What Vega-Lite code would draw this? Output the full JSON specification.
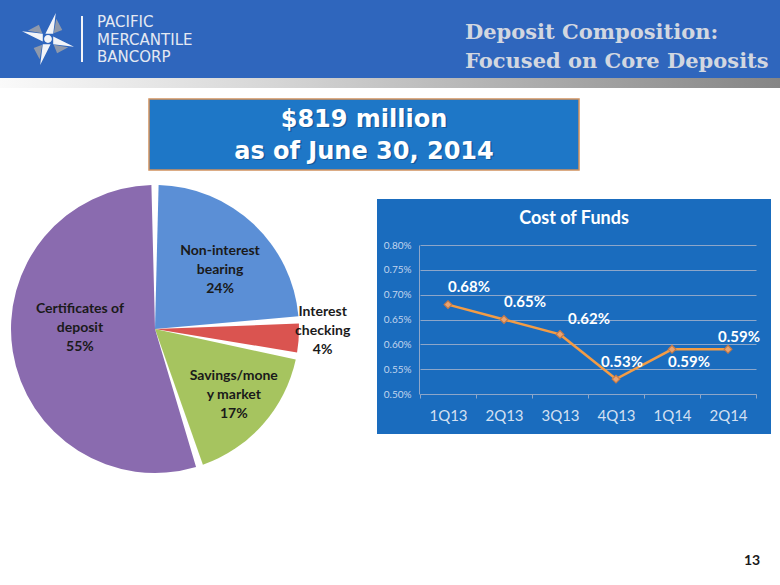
{
  "$schema": "https://vega.github.io/schema/vega-lite/v6.json",
  "background": "#FFFFFF",
  "padding": 0,
  "spacing": 0,
  "config": {"view": {"stroke": null}, "font": "Lato"},
  "datasets": {
    "one": [{}],
    "logo": [{"t": "PACIFIC\nMERCANTILE\nBANCORP"}],
    "heading": [{"t": "Deposit Composition:\nFocused on Core Deposits"}],
    "total": [{"t": "$819 million\nas of June 30, 2014"}],
    "panelTitle": [{"t": "Cost of Funds"}],
    "deposits": [
      {"category": "Non-interest bearing", "label": "Non-interest\nbearing\n24%", "share": 24, "k": 1},
      {"category": "Interest checking", "label": "Interest\nchecking\n4%", "share": 4, "k": 2},
      {"category": "Savings/money market", "label": "Savings/mone\ny market\n17%", "share": 17, "k": 3},
      {"category": "Certificates of deposit", "label": "Certificates of\ndeposit\n55%", "share": 55, "k": 4}
    ],
    "cost": [
      {"quarter": "1Q13", "cost": 0.0068},
      {"quarter": "2Q13", "cost": 0.0065},
      {"quarter": "3Q13", "cost": 0.0062},
      {"quarter": "4Q13", "cost": 0.0053},
      {"quarter": "1Q14", "cost": 0.0059},
      {"quarter": "2Q14", "cost": 0.0059}
    ],
    "page": [{"t": "13"}]
  },
  "vconcat": [
    {
      "hconcat": [
        {
          "width": 194, "height": 78,
          "view": {"fill": "#2F66BD"},
          "layer": [
            {"data": {"name": "one"}, "mark": {"type": "point", "shape": "M -1.665 -0.22 L -1.565 -0.78 L -1.335 -0.35 Z M -1.665 0.22 L -1.105 0.32 L -1.535 0.55 Z M -2.105 0.22 L -2.205 0.78 L -2.435 0.35 Z M -2.105 -0.22 L -2.665 -0.32 L -2.235 -0.55 Z", "size": 2704, "filled": true, "color": "#8F99AB", "opacity": 1, "strokeWidth": 0}},
            {"data": {"name": "one"}, "mark": {"type": "point", "shape": "M -1.985 -0.2 L -1.585 -1 L -1.685 -0.2 Z M -1.685 -0.1 L -0.885 0.3 L -1.685 0.2 Z M -1.785 0.2 L -2.185 1 L -2.085 0.2 Z M -2.085 0.1 L -2.885 -0.3 L -2.085 -0.2 Z M -1.735 0 A 0.15 0.15 0 1 1 -2.035 0 A 0.15 0.15 0 1 1 -1.735 0 Z", "size": 2704, "filled": true, "color": "#F2F4F8", "opacity": 1, "strokeWidth": 0}},
            {"data": {"name": "one"}, "mark": {"type": "point", "shape": "M -0.577 -0.885 L -0.577 0.885", "size": 2704, "filled": false, "stroke": "#F2F4F8", "strokeWidth": 2, "opacity": 1}},
            {"data": {"name": "logo"}, "mark": {"type": "text", "align": "left", "baseline": "middle", "dy": -17, "lineBreak": "\n", "lineHeight": 17.5, "font": "DejaVu Sans", "fontSize": 15, "color": "#E4E9F2"},
              "encoding": {"text": {"field": "t", "type": "nominal"}}}
          ]
        },
        {
          "width": 586, "height": 78,
          "view": {"fill": "#2F66BD"},
          "data": {"name": "heading"},
          "mark": {"type": "text", "align": "left", "baseline": "middle", "dx": -22, "dy": -6, "lineBreak": "\n", "lineHeight": 29, "font": "DejaVu Serif", "fontWeight": "bold", "fontSize": 21, "color": "#D2D7E0"},
          "encoding": {"text": {"field": "t", "type": "nominal"}}
        }
      ],
      "spacing": 0, "bounds": "flush"
    },
    {
      "width": 780, "height": 10,
      "data": {"name": "one"},
      "mark": {"type": "rect", "fill": {"gradient": "linear", "x1": 0, "y1": 0, "x2": 1, "y2": 0, "stops": [{"offset": 0, "color": "#FAFAFA"}, {"offset": 0.35, "color": "#D6D6D6"}, {"offset": 1, "color": "#858585"}]}},
      "encoding": {}
    },
    {"width": 780, "height": 10, "data": {"name": "one"}, "mark": {"type": "point", "opacity": 0}},
    {
      "hconcat": [
        {"width": 149, "height": 71, "data": {"name": "one"}, "mark": {"type": "point", "opacity": 0}},
        {
          "width": 430, "height": 71,
          "view": {"fill": "#1E77C7", "stroke": "#D1915E", "strokeWidth": 1.5},
          "data": {"name": "total"},
          "encoding": {"text": {"field": "t", "type": "nominal"}},
          "layer": [
            {"mark": {"type": "text", "align": "center", "baseline": "middle", "lineBreak": "\n", "lineHeight": 32, "font": "DejaVu Sans", "fontWeight": "bold", "fontSize": 24, "color": "#0D3F73", "opacity": 0.5, "dx": 1.5, "dy": -13.5}},
            {"mark": {"type": "text", "align": "center", "baseline": "middle", "lineBreak": "\n", "lineHeight": 32, "font": "DejaVu Sans", "fontWeight": "bold", "fontSize": 24, "color": "#FFFFFF", "dy": -15}}
          ]
        }
      ],
      "spacing": 0, "bounds": "flush"
    },
    {"width": 780, "height": 14, "data": {"name": "one"}, "mark": {"type": "point", "opacity": 0}},
    {
      "hconcat": [
        {
          "width": 310, "height": 284,
          "data": {"name": "deposits"},
          "layer": [
            {
              "mark": {"type": "arc", "outerRadius": 144, "padAngle": 0.05},
              "encoding": {
                "theta": {"field": "share", "type": "quantitative", "stack": true},
                "order": {"field": "k", "type": "quantitative"},
                "color": {"field": "category", "type": "nominal", "legend": null,
                  "scale": {"domain": ["Non-interest bearing", "Interest checking", "Savings/money market", "Certificates of deposit"], "range": ["#5B8FD6", "#DA5450", "#A6C45F", "#8A6BAF"]}}
              }
            },
            {
              "mark": {"type": "text", "radius": 95, "dy": -9, "lineBreak": "\n", "lineHeight": 19, "font": "Lato", "fontWeight": "bold", "fontSize": 14, "color": "#1A1A1A"},
              "encoding": {
                "theta": {"field": "share", "type": "quantitative", "stack": true},
                "order": {"field": "k", "type": "quantitative"},
                "text": {"condition": {"test": "datum.k == 1", "field": "label", "type": "nominal"}, "value": ""}}
            },
            {
              "transform": [
                {"stack": "share", "groupby": [], "sort": [{"field": "k", "order": "ascending"}], "as": ["s0", "s1"]},
                {"filter": "datum.k == 2"}
              ],
              "mark": {"type": "text", "radius": 168, "dy": -6, "lineBreak": "\n", "lineHeight": 19, "font": "Lato", "fontWeight": "bold", "fontSize": 14, "color": "#1A1A1A"},
              "encoding": {
                "theta": {"field": "s0", "type": "quantitative", "stack": null},
                "text": {"field": "label", "type": "nominal"}
              }
            },
            {
              "mark": {"type": "text", "radius": 105, "dy": -22, "lineBreak": "\n", "lineHeight": 19, "font": "Lato", "fontWeight": "bold", "fontSize": 14, "color": "#1A1A1A"},
              "encoding": {
                "theta": {"field": "share", "type": "quantitative", "stack": true},
                "order": {"field": "k", "type": "quantitative"},
                "text": {"condition": {"test": "datum.k == 3", "field": "label", "type": "nominal"}, "value": ""}}
            },
            {
              "mark": {"type": "text", "radius": 76, "dy": -32, "lineBreak": "\n", "lineHeight": 19, "font": "Lato", "fontWeight": "bold", "fontSize": 14, "color": "#1A1A1A"},
              "encoding": {
                "theta": {"field": "share", "type": "quantitative", "stack": true},
                "order": {"field": "k", "type": "quantitative"},
                "text": {"condition": {"test": "datum.k == 4", "field": "label", "type": "nominal"}, "value": ""}}
            }
          ]
        },
        {"width": 67, "height": 284, "data": {"name": "one"}, "mark": {"type": "point", "opacity": 0}},
        {
          "vconcat": [
            {"width": 394, "height": 12, "data": {"name": "one"}, "mark": {"type": "point", "opacity": 0}},
            {
              "width": 394, "height": 40,
              "view": {"fill": "#1A6CBE"},
              "data": {"name": "panelTitle"},
              "mark": {"type": "text", "color": "#FFFFFF", "font": "Lato", "fontSize": 18, "fontWeight": "bold", "baseline": "middle"},
              "encoding": {"text": {"field": "t", "type": "nominal"}}
            },
            {
              "width": 394, "height": 195,
              "view": {"fill": "#1A6CBE"},
              "data": {"name": "cost"},
              "encoding": {
                "x": {"field": "quarter", "type": "ordinal", "sort": null,
                  "scale": {"type": "band", "domain": ["1Q13", "2Q13", "3Q13", "4Q13", "1Q14", "2Q14"], "range": [43, 379], "paddingInner": 0, "paddingOuter": 0},
                  "axis": {"title": null, "orient": "bottom", "offset": -40, "labelAngle": 0, "labelFont": "Lato", "labelFontSize": 15, "labelColor": "#D3E0F2", "labelPadding": 10, "domainColor": "#8DA6C9", "tickColor": "#8DA6C9", "tickSize": 4, "tickBand": "extent", "grid": false}},
                "y": {"field": "cost", "type": "quantitative",
                  "scale": {"domain": [0.005, 0.008], "range": [155, 6], "nice": false, "zero": false},
                  "axis": {"title": null, "values": [0.005, 0.0055, 0.006, 0.0065, 0.007, 0.0075, 0.008], "format": ".2%", "offset": -42, "ticks": false, "labelPadding": 8, "labelFont": "Lato", "labelFontSize": 10, "labelColor": "#C2D5EE", "labelOverlap": false, "domainColor": "#8DA6C9", "gridColor": "#8DA6C9", "grid": true}}
              },
              "layer": [
                {"mark": {"type": "line", "color": "#F39C45", "strokeWidth": 2.5}, "encoding": {}},
                {"mark": {"type": "point", "shape": "diamond", "filled": true, "fill": "#E8A473", "stroke": "#C87A45", "strokeWidth": 1.2, "size": 60, "opacity": 1}},
                {"transform": [{"filter": "datum.quarter == '1Q13' || datum.quarter == '2Q13'"}],
                  "mark": {"type": "text", "color": "#FFFFFF", "font": "Lato", "fontWeight": "bold", "fontSize": 15, "dx": 21, "dy": -18},
                  "encoding": {"text": {"field": "cost", "type": "quantitative", "format": ".2%"}}},
                {"transform": [{"filter": "datum.quarter == '3Q13'"}],
                  "mark": {"type": "text", "color": "#FFFFFF", "font": "Lato", "fontWeight": "bold", "fontSize": 15, "dx": 29, "dy": -15},
                  "encoding": {"text": {"field": "cost", "type": "quantitative", "format": ".2%"}}},
                {"transform": [{"filter": "datum.quarter == '4Q13'"}],
                  "mark": {"type": "text", "color": "#FFFFFF", "font": "Lato", "fontWeight": "bold", "fontSize": 15, "dx": 6, "dy": -17},
                  "encoding": {"text": {"field": "cost", "type": "quantitative", "format": ".2%"}}},
                {"transform": [{"filter": "datum.quarter == '1Q14'"}],
                  "mark": {"type": "text", "color": "#FFFFFF", "font": "Lato", "fontWeight": "bold", "fontSize": 15, "dx": 17, "dy": 13},
                  "encoding": {"text": {"field": "cost", "type": "quantitative", "format": ".2%"}}},
                {"transform": [{"filter": "datum.quarter == '2Q14'"}],
                  "mark": {"type": "text", "color": "#FFFFFF", "font": "Lato", "fontWeight": "bold", "fontSize": 15, "dx": 11, "dy": -12},
                  "encoding": {"text": {"field": "cost", "type": "quantitative", "format": ".2%"}}}
              ]
            }
          ],
          "spacing": 0, "bounds": "flush"
        }
      ],
      "spacing": 0, "bounds": "flush"
    },
    {"width": 780, "height": 78, "data": {"name": "one"}, "mark": {"type": "point", "opacity": 0}},
    {
      "hconcat": [
        {"width": 730, "height": 20, "data": {"name": "one"}, "mark": {"type": "point", "opacity": 0}},
        {
          "width": 44, "height": 20,
          "data": {"name": "page"},
          "mark": {"type": "text", "font": "Lato", "fontWeight": "bold", "fontSize": 14, "color": "#1A1A1A"},
          "encoding": {"text": {"field": "t", "type": "nominal"}}
        }
      ],
      "spacing": 0, "bounds": "flush"
    }
  ]
}
